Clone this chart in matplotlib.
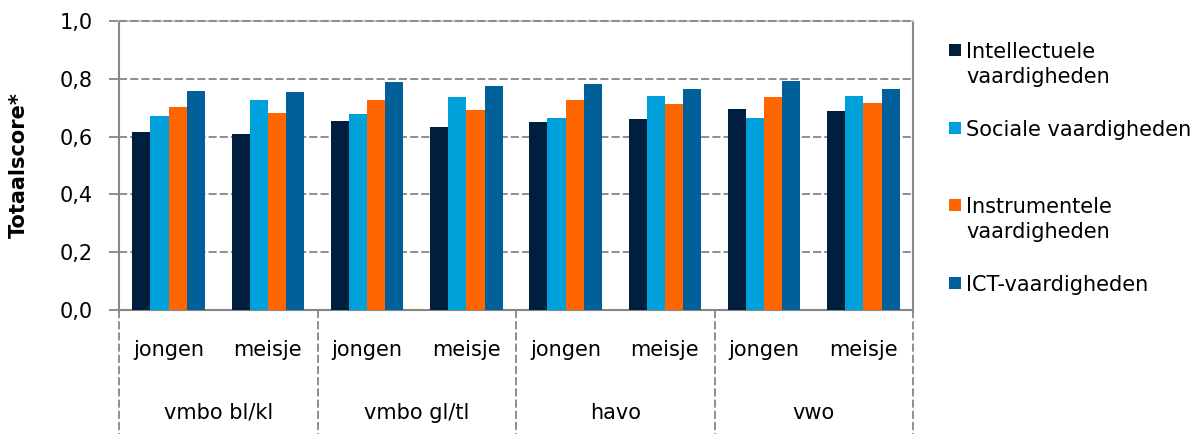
import matplotlib
matplotlib.use("Agg")
import matplotlib.pyplot as plt
from matplotlib.patches import Rectangle
import numpy as np

plt.rcParams['font.family'] = ['DejaVu Sans']

levels = ['vmbo bl/kl', 'vmbo gl/tl', 'havo', 'vwo']
genders = ['jongen', 'meisje']
series = ['Intellectuele\nvaardigheden', 'Sociale vaardigheden',
          'Instrumentele\nvaardigheden', 'ICT-vaardigheden']
colors = ['#001F3F', '#00A0DA', '#FF6600', '#00609A']

# one value per level/gender group, in order of levels x genders
intellectueel = [0.616, 0.608, 0.654, 0.634, 0.652, 0.660, 0.694, 0.688]
sociaal = [0.670, 0.728, 0.678, 0.737, 0.665, 0.740, 0.665, 0.740]
instrumenteel = [0.702, 0.681, 0.728, 0.692, 0.728, 0.713, 0.737, 0.715]
ict = [0.759, 0.754, 0.790, 0.774, 0.783, 0.764, 0.792, 0.765]
values = [intellectueel, sociaal, instrumenteel, ict]

W, H = 1203, 434
fig = plt.figure(figsize=(W / 100, H / 100), dpi=100)
ax = fig.add_axes([119 / W, 1 - 310 / H, (913 - 119) / W, (310 - 21) / H])

grey = '#868686'
dash = (0, (4.5, 1.7))
fs = 15
n = len(levels) * len(genders)
x = np.arange(n)
w = 0.183
for i, (vals, col) in enumerate(zip(values, colors)):
    ax.bar(x + (i - 1.5) * w, vals, width=w, color=col, zorder=3)

ax.set_xlim(-0.5, n - 0.5)
ax.set_ylim(0, 1.0)
yt = np.arange(0, 1.01, 0.2)
ax.set_yticks(yt)
ax.set_yticklabels([f'{v:.1f}'.replace('.', ',') for v in yt], fontsize=fs)
ax.tick_params(axis='y', direction='out', length=7, color=grey, width=1.3, pad=12)
ax.set_xticks([])
ax.yaxis.grid(True, linestyle=dash, color=grey, linewidth=1.3, zorder=0)

for side in ['left', 'right', 'bottom']:
    ax.spines[side].set_color(grey)
    ax.spines[side].set_linewidth(1.5)
ax.spines['top'].set_color('#C8C8C8')
ax.spines['top'].set_linewidth(1.5)
ax.axhline(1.0, color=grey, linestyle=dash, linewidth=1.3, clip_on=False, zorder=4)

ax.set_ylabel('Totaalscore*', fontsize=fs, fontweight='bold')
ax.yaxis.set_label_coords(-0.113, 0.5)

# category labels below the axis
trans = ax.get_xaxis_transform()
for k in range(n):
    ax.text(k, -0.138, genders[k % 2], transform=trans, ha='center', va='center', fontsize=fs)
for j, lev in enumerate(levels):
    ax.text(2 * j + 0.5, -0.356, lev, transform=trans, ha='center', va='center', fontsize=fs)
for j in range(len(levels) + 1):
    ax.plot([2 * j - 0.5, 2 * j - 0.5], [0, -0.43], transform=trans, color=grey,
            linestyle=dash, linewidth=1.3, clip_on=False)

# legend, drawn by hand to keep the square on the first text line
leg_base = [58, 136, 213, 291]
for lab, col, yb in zip(series, colors, leg_base):
    fig.patches.append(Rectangle((949 / W, 1 - (yb - 2) / H), 12 / W, 12 / H,
                                 transform=fig.transFigure, facecolor=col, edgecolor='none'))
    for k, line in enumerate(lab.split('\n')):
        fig.text(966 / W, 1 - (yb + 25 * k) / H, line, ha='left', va='baseline', fontsize=fs)

fig.savefig('out.png', dpi=100)
